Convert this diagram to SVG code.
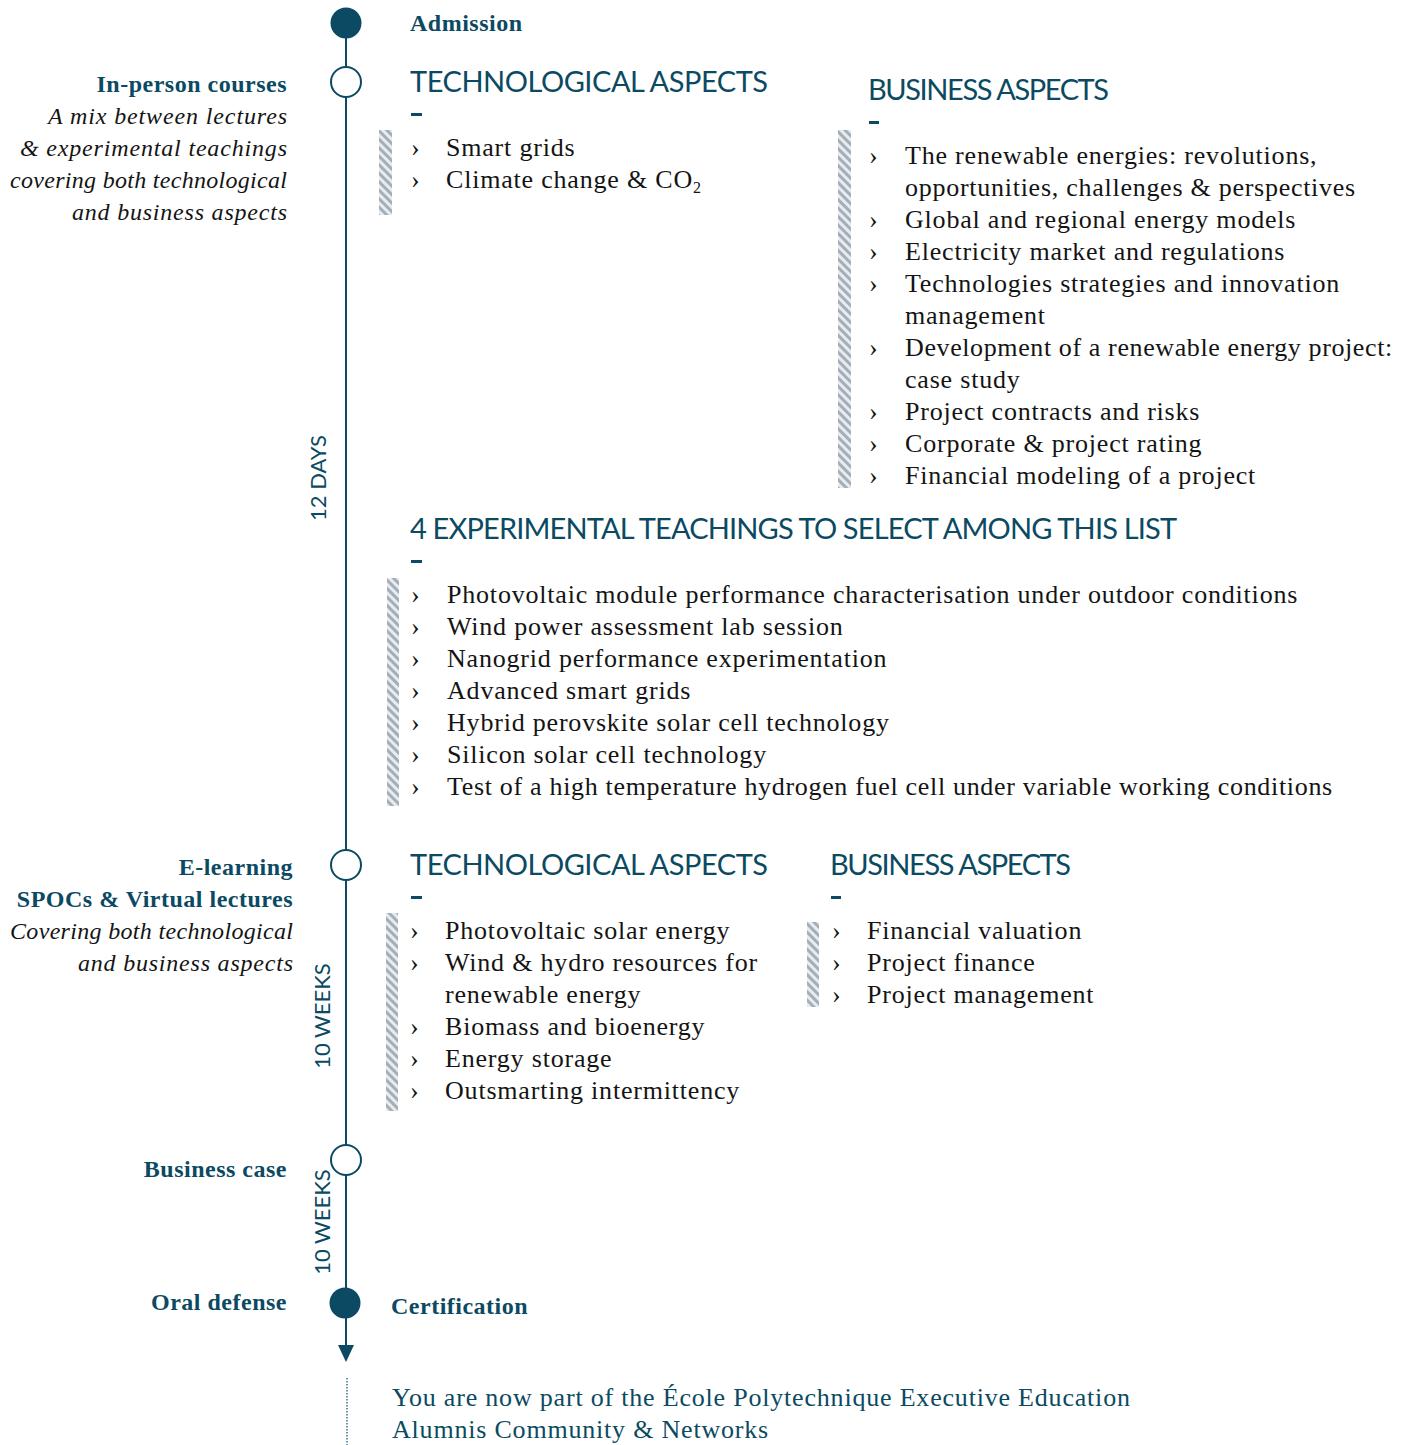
<svg xmlns="http://www.w3.org/2000/svg" width="1403" height="1445" viewBox="0 0 1403 1445">
<style>
.t{font-family:"Liberation Serif",serif;font-size:26px;fill:#141414;letter-spacing:0.8px}
.b{font-family:"Liberation Serif",serif;font-size:24px;font-weight:bold;fill:#0b4a62;letter-spacing:0.5px}
.i{font-family:"Liberation Serif",serif;font-size:24px;font-style:italic;fill:#141414}
.h{font-family:Lato,"Open Sans",sans-serif;font-size:29px;fill:#0b4a62}
.v{font-family:Lato,"Open Sans",sans-serif;font-size:22px;fill:#0b4a62}
.a{font-family:"Liberation Serif",serif;font-size:26px;fill:#0b4a62;letter-spacing:0.8px}
.dash{fill:#0b4a62}
.hatch{fill:url(#hp)}
</style>
<defs>
<pattern id="hp" patternUnits="userSpaceOnUse" width="6" height="6" patternTransform="rotate(-45)">
<rect x="0" y="0" width="6" height="6" fill="#e8ecef"/>
<rect x="0" y="0" width="3" height="6" fill="#a3aeb8"/>
</pattern>
</defs>
<g id="connectors">
<line x1="346" y1="23" x2="346" y2="1345" stroke="#0b4a62" stroke-width="2"/>
<path d="M338,1345 L354,1345 L346,1362 Z" fill="#0b4a62"/>
<line x1="347" y1="1378" x2="347" y2="1445" stroke="#0b4a62" stroke-width="1.2" stroke-dasharray="1.5,1.5"/>
</g>
<g id="admission">
<circle cx="346" cy="23" r="15.5" fill="#0b4a62"/>
<text class="b" x="410" y="31">Admission</text>
</g>
<g id="inperson">
<circle cx="346" cy="82" r="15" fill="#fff" stroke="#0b4a62" stroke-width="2"/>
<text class="b" x="287" y="92" text-anchor="end">In-person courses</text>
<text class="i" x="287" y="124" text-anchor="end" textLength="239" lengthAdjust="spacing">A mix between lectures</text>
<text class="i" x="287" y="156" text-anchor="end" textLength="267" lengthAdjust="spacing">&amp; experimental teachings</text>
<text class="i" x="287" y="188" text-anchor="end" textLength="277" lengthAdjust="spacing">covering both technological</text>
<text class="i" x="287" y="220" text-anchor="end" textLength="215" lengthAdjust="spacing">and business aspects</text>
<text class="v" transform="translate(326,478) rotate(-90)" text-anchor="middle">12 DAYS</text>
</g>
<g id="tech1">
<text class="h" x="410" y="92" textLength="358" lengthAdjust="spacing">TECHNOLOGICAL ASPECTS</text>
<rect class="dash" x="411" y="113" width="11" height="3"/>
<rect class="hatch" x="379" y="130" width="13" height="85"/>
<text class="t" x="411" y="156">›</text><text class="t" x="446" y="156">Smart grids</text>
<text class="t" x="411" y="188">›</text><text class="t" x="446" y="188">Climate change &amp; CO<tspan font-size="16" dy="5">2</tspan></text>
</g>
<g id="bus1">
<text class="h" x="868" y="100" textLength="241" lengthAdjust="spacing">BUSINESS ASPECTS</text>
<rect class="dash" x="869" y="121" width="10" height="3"/>
<rect class="hatch" x="838" y="130" width="13" height="358"/>
<text class="t" x="869" y="164">›</text><text class="t" x="905" y="164">The renewable energies: revolutions,</text>
<text class="t" x="905" y="196" textLength="451" lengthAdjust="spacing">opportunities,  challenges &amp; perspectives</text>
<text class="t" x="869" y="228">›</text><text class="t" x="905" y="228">Global and regional energy models</text>
<text class="t" x="869" y="260">›</text><text class="t" x="905" y="260">Electricity market and regulations</text>
<text class="t" x="869" y="292">›</text><text class="t" x="905" y="292">Technologies strategies and innovation</text>
<text class="t" x="905" y="324">management</text>
<text class="t" x="869" y="356">›</text><text class="t" x="905" y="356" textLength="488" lengthAdjust="spacing">Development of a renewable energy project:</text>
<text class="t" x="905" y="388">case study</text>
<text class="t" x="869" y="420">›</text><text class="t" x="905" y="420">Project contracts and risks</text>
<text class="t" x="869" y="452">›</text><text class="t" x="905" y="452">Corporate &amp; project rating</text>
<text class="t" x="869" y="484">›</text><text class="t" x="905" y="484">Financial modeling of a project</text>
</g>
<g id="exp">
<text class="h" x="410" y="539" textLength="767" lengthAdjust="spacing">4 EXPERIMENTAL TEACHINGS TO SELECT AMONG THIS LIST</text>
<rect class="dash" x="411" y="560" width="11" height="3"/>
<rect class="hatch" x="387" y="578" width="12" height="228"/>
<text class="t" x="411" y="603">›</text><text class="t" x="447" y="603">Photovoltaic module performance characterisation under outdoor conditions</text>
<text class="t" x="411" y="635">›</text><text class="t" x="447" y="635">Wind power assessment lab session</text>
<text class="t" x="411" y="667">›</text><text class="t" x="447" y="667">Nanogrid performance experimentation</text>
<text class="t" x="411" y="699">›</text><text class="t" x="447" y="699">Advanced smart grids</text>
<text class="t" x="411" y="731">›</text><text class="t" x="447" y="731">Hybrid perovskite solar cell technology</text>
<text class="t" x="411" y="763">›</text><text class="t" x="447" y="763">Silicon solar cell technology</text>
<text class="t" x="411" y="795">›</text><text class="t" x="447" y="795" textLength="886" lengthAdjust="spacing">Test of a high temperature hydrogen fuel cell under variable working conditions</text>
</g>
<g id="elearning">
<circle cx="346" cy="865" r="15" fill="#fff" stroke="#0b4a62" stroke-width="2"/>
<text class="b" x="293" y="875" text-anchor="end">E-learning</text>
<text class="b" x="293" y="907" text-anchor="end">SPOCs &amp; Virtual lectures</text>
<text class="i" x="293" y="939" text-anchor="end" textLength="283" lengthAdjust="spacing">Covering both technological</text>
<text class="i" x="293" y="971" text-anchor="end" textLength="215" lengthAdjust="spacing">and business aspects</text>
<text class="v" transform="translate(330,1016) rotate(-90)" text-anchor="middle">10 WEEKS</text>
</g>
<g id="tech2">
<text class="h" x="410" y="875" textLength="358" lengthAdjust="spacing">TECHNOLOGICAL ASPECTS</text>
<rect class="dash" x="411" y="896" width="11" height="3"/>
<rect class="hatch" x="386" y="913" width="12" height="198"/>
<text class="t" x="410" y="939">›</text><text class="t" x="445" y="939">Photovoltaic solar energy</text>
<text class="t" x="410" y="971">›</text><text class="t" x="445" y="971">Wind &amp; hydro resources for</text>
<text class="t" x="445" y="1003">renewable energy</text>
<text class="t" x="410" y="1035">›</text><text class="t" x="445" y="1035">Biomass and bioenergy</text>
<text class="t" x="410" y="1067">›</text><text class="t" x="445" y="1067">Energy storage</text>
<text class="t" x="410" y="1099">›</text><text class="t" x="445" y="1099">Outsmarting intermittency</text>
</g>
<g id="bus2">
<text class="h" x="830" y="875" textLength="241" lengthAdjust="spacing">BUSINESS ASPECTS</text>
<rect class="dash" x="831" y="896" width="10" height="3"/>
<rect class="hatch" x="807" y="922" width="12" height="85"/>
<text class="t" x="832" y="939">›</text><text class="t" x="867" y="939">Financial valuation</text>
<text class="t" x="832" y="971">›</text><text class="t" x="867" y="971">Project finance</text>
<text class="t" x="832" y="1003">›</text><text class="t" x="867" y="1003">Project management</text>
</g>
<g id="businesscase">
<circle cx="346" cy="1160" r="15" fill="#fff" stroke="#0b4a62" stroke-width="2"/>
<text class="b" x="287" y="1177" text-anchor="end">Business case</text>
<text class="v" transform="translate(330,1222) rotate(-90)" text-anchor="middle">10 WEEKS</text>
</g>
<g id="oral">
<circle cx="345" cy="1303" r="15.5" fill="#0b4a62"/>
<text class="b" x="287" y="1310" text-anchor="end">Oral defense</text>
<text class="b" x="391" y="1314">Certification</text>
</g>
<g id="alumni">
<text class="a" x="392" y="1406">You are now part of the École Polytechnique Executive Education</text>
<text class="a" x="392" y="1438">Alumnis Community &amp; Networks</text>
</g>
</svg>
